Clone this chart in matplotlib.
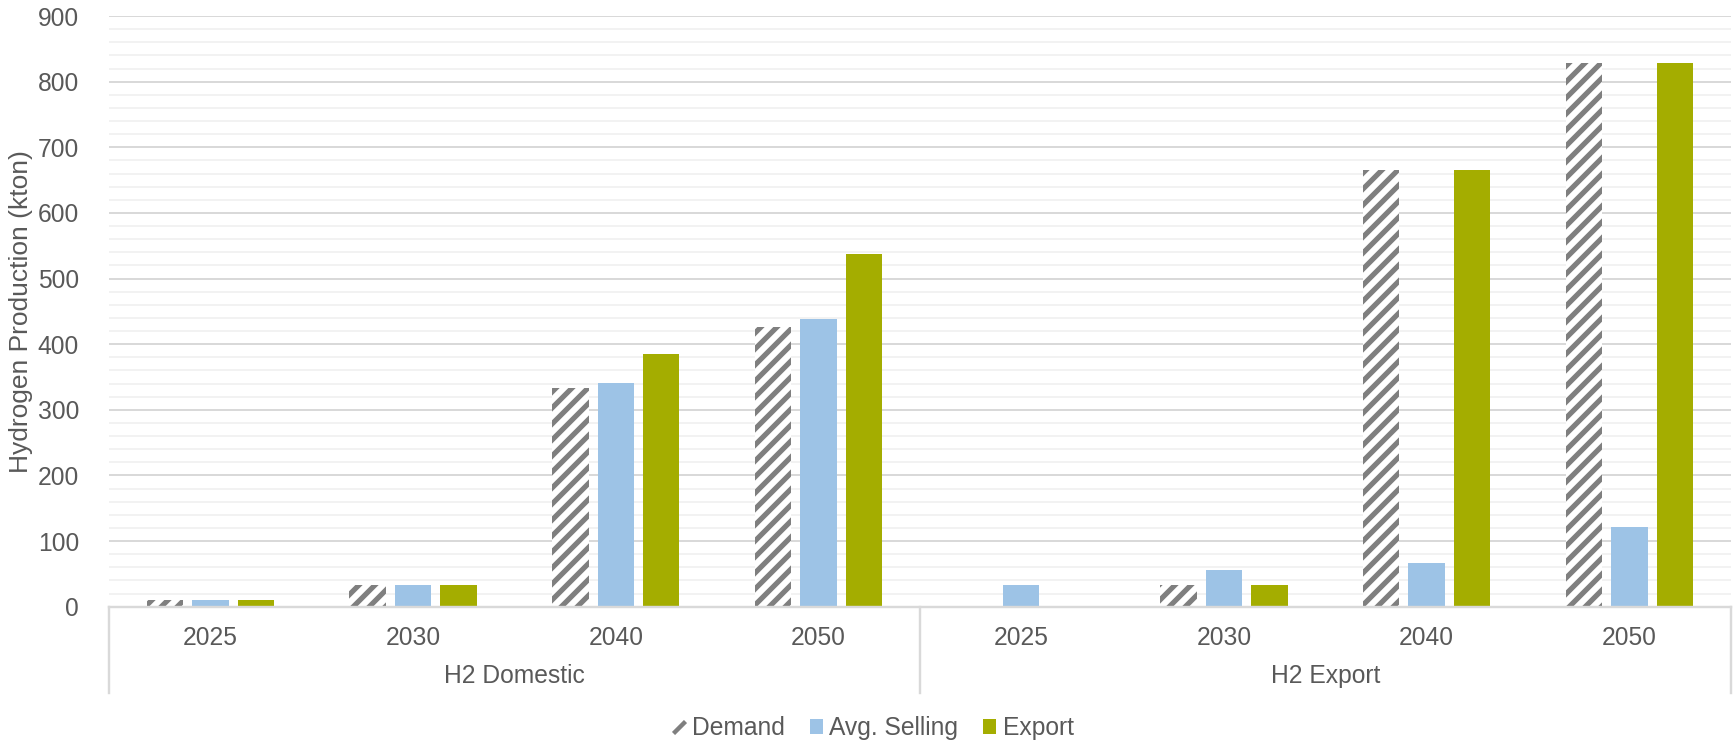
import matplotlib
matplotlib.use('Agg')
import matplotlib.pyplot as plt
from matplotlib.patches import Patch
from matplotlib.lines import Line2D
import numpy as np

DPI = 144
TEXT = '#595959'
GRID_MAJOR = '#d9d9d9'
GRID_MINOR = '#f2f2f2'
HATCH_GREY = '#7f7f7f'

plt.rcParams['font.family'] = ['Liberation Sans', 'DejaVu Sans']
plt.rcParams['font.size'] = 12.3
plt.rcParams['hatch.linewidth'] = 2.6

groups = ['H2 Domestic', 'H2 Export']
years = ['2025', '2030', '2040', '2050']

demand = [10, 33, 333, 426, 0, 33, 666, 828]
avg_selling = [10, 33, 341, 439, 33, 56, 66, 122]
export = [10, 33, 385, 537, 0, 33, 666, 828]

series = [
    ('Demand', demand, dict(color='white', edgecolor=HATCH_GREY, hatch='///', linewidth=0)),
    ('Avg. Selling', avg_selling, dict(color='#9dc3e6', linewidth=0)),
    ('Export', export, dict(color='#a4ad00', linewidth=0)),
]

fig = plt.figure(figsize=(1733 / DPI, 742 / DPI), dpi=DPI)
ax = fig.add_axes([109 / 1733, 1 - 606.7 / 742, (1730.7 - 109) / 1733, (606.7 - 16) / 742])

x = np.arange(len(groups) * len(years))
step = 0.224
width = 0.18
for i, (name, vals, style) in enumerate(series):
    ax.bar(x + (i - 1) * step, vals, width, zorder=3, **style)

ax.set_xlim(-0.5, len(x) - 0.5)
ax.set_ylim(0, 900)
ax.set_yticks(np.arange(0, 901, 100))
ax.set_yticks(np.arange(0, 901, 20), minor=True)
ax.grid(axis='y', which='major', color=GRID_MAJOR, linewidth=1.0, zorder=0)
ax.grid(axis='y', which='minor', color=GRID_MINOR, linewidth=1.0, zorder=0)
ax.tick_params(axis='y', which='both', length=0, pad=15, colors=TEXT, labelsize=12.3)
ax.set_xticks([])

for side in ['top', 'right', 'left']:
    ax.spines[side].set_visible(False)
ax.spines['bottom'].set_color(GRID_MAJOR)
ax.spines['bottom'].set_linewidth(1.2)
ax.spines['bottom'].set_zorder(4)

ax.set_ylabel('Hydrogen Production (kton)', color=TEXT, fontsize=13.2)
ax.yaxis.set_label_coords(-0.047, 0.5)

# two-level category axis: years under each cluster, group names below
trans = ax.get_xaxis_transform()
axes_h = 606.7 - 16
for g, group in enumerate(groups):
    for y, year in enumerate(years):
        ax.text(g * len(years) + y, -31.5 / axes_h, year, transform=trans,
                ha='center', va='center', color=TEXT, fontsize=12.3)
    ax.text(g * len(years) + (len(years) - 1) / 2, -69.5 / axes_h, group,
            transform=trans, ha='center', va='center', color=TEXT, fontsize=12.3)

for sep in [-0.5, len(years) - 0.5, len(x) - 0.5]:
    ax.plot([sep, sep], [0, -86.5 / axes_h], transform=trans, color=GRID_MAJOR,
            linewidth=1.2, clip_on=False, zorder=4)

# the hatch is too coarse to show in a small legend key, so draw a single stripe
handles = [Line2D([0], [0], linestyle='none', marker=[(-1, -1), (1, 1)], markersize=6,
                  markeredgecolor=HATCH_GREY, markeredgewidth=2.2, label='Demand')]
handles += [Patch(label=name, **style) for name, vals, style in series[1:]]
fig.legend(handles=handles, loc='center', bbox_to_anchor=(873 / 1733, 1 - 728 / 742),
           ncol=3, frameon=False, handlelength=0.55, handleheight=0.55,
           handletextpad=0.25, columnspacing=1.0, labelcolor=TEXT, fontsize=12.3)

fig.savefig('out.png', dpi=DPI)
